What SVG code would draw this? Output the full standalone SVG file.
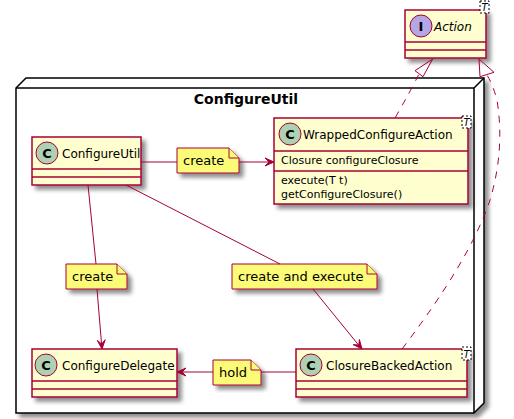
<svg xmlns="http://www.w3.org/2000/svg" width="514" height="419" viewBox="0 0 514 419">
<style>
.cls{fill:#FEFECE;stroke:#A80036;stroke-width:1.5}
.sep{stroke:#A80036;stroke-width:1.5;fill:none}
.note{fill:#FBFB77;stroke:#A80036;stroke-width:1}
.circ{fill:#ADD1B2;stroke:#A80036;stroke-width:1}
.icirc{fill:#B4A7E5;stroke:#A80036;stroke-width:1}
.glyph{font-family:"DejaVu Sans",sans-serif;font-weight:bold;font-size:13px;fill:#000;text-anchor:middle}
.name{font-family:"DejaVu Sans",sans-serif;font-size:12px;fill:#000}
.mem{font-family:"DejaVu Sans",sans-serif;font-size:11px;fill:#000}
.ntext{font-family:"DejaVu Sans",sans-serif;font-size:13px;fill:#000}
.tbox{fill:#FFFFFF;stroke:#000;stroke-width:1;stroke-dasharray:2,2}
.ttext{font-family:"DejaVu Sans",sans-serif;font-size:10px;font-style:italic;fill:#000;text-anchor:middle}
.line{stroke:#A80036;stroke-width:1;fill:none}
.dash{stroke:#A80036;stroke-width:1;fill:none;stroke-dasharray:7,7}
.head{fill:#A80036;stroke:#A80036;stroke-width:1}
.ohead{fill:none;stroke:#A80036;stroke-width:1}
</style>
<defs>
<filter id="sh" x="-20%" y="-20%" width="150%" height="150%">
<feGaussianBlur in="SourceAlpha" stdDeviation="2" result="b"/>
<feColorMatrix in="b" type="matrix" values="0 0 0 0 0  0 0 0 0 0  0 0 0 0 0  0 0 0 0.45 0" result="c"/>
<feOffset in="c" dx="4" dy="4" result="o"/>
<feMerge><feMergeNode in="o"/><feMergeNode in="SourceGraphic"/></feMerge>
</filter>
</defs>
<rect width="514" height="419" fill="#FFFFFF"/>

<g id="node-ConfigureUtil">
<path d="M16,88 L26,78 L484,78 L484,403 L474,413 L16,413 Z" fill="#FFFFFF" stroke="#000" stroke-width="1.5" filter="url(#sh)"/>
<path d="M16,88 L474,88 L484,78 M474,88 L474,413" fill="none" stroke="#000" stroke-width="1.5"/>
<text x="246" y="103.5" font-family="DejaVu Sans, sans-serif" font-size="14" font-weight="bold" text-anchor="middle">ConfigureUtil</text>
</g>

<g id="class-Action">
<rect class="cls" x="405" y="10" width="81" height="48" filter="url(#sh)"/>
<line class="sep" x1="405" y1="42" x2="486" y2="42"/>
<line class="sep" x1="405" y1="50" x2="486" y2="50"/>
<circle class="icirc" cx="421" cy="26" r="11"/>
<text class="glyph" x="421" y="30.5">I</text>
<text class="name" x="434" y="30.5" font-style="italic">Action</text>
<rect class="tbox" x="480" y="1" width="9" height="12"/>
<text class="ttext" x="484.5" y="11">T</text>
</g>

<g id="class-WrappedConfigureAction">
<rect class="cls" x="274" y="118" width="194" height="86" filter="url(#sh)"/>
<line class="sep" x1="274" y1="151" x2="468" y2="151"/>
<line class="sep" x1="274" y1="171" x2="468" y2="171"/>
<circle class="circ" cx="290" cy="134" r="11"/>
<text class="glyph" x="290" y="138.5">C</text>
<text class="name" x="303" y="138.5">WrappedConfigureAction</text>
<text class="mem" x="281" y="164">Closure configureClosure</text>
<text class="mem" x="281" y="184">execute(T t)</text>
<text class="mem" x="281" y="198">getConfigureClosure()</text>
<rect class="tbox" x="462" y="116" width="9" height="12"/>
<text class="ttext" x="466.5" y="126">T</text>
</g>

<g id="class-ConfigureUtil">
<rect class="cls" x="32" y="137" width="109" height="48" filter="url(#sh)"/>
<line class="sep" x1="32" y1="169" x2="141" y2="169"/>
<line class="sep" x1="32" y1="177" x2="141" y2="177"/>
<circle class="circ" cx="47" cy="153" r="11"/>
<text class="glyph" x="47" y="157.5">C</text>
<text class="name" x="62" y="157.5">ConfigureUtil</text>
</g>

<g id="class-ConfigureDelegate">
<rect class="cls" x="32" y="349" width="145" height="48" filter="url(#sh)"/>
<line class="sep" x1="32" y1="381" x2="177" y2="381"/>
<line class="sep" x1="32" y1="389" x2="177" y2="389"/>
<circle class="circ" cx="46" cy="365" r="11"/>
<text class="glyph" x="46" y="369.5">C</text>
<text class="name" x="62" y="369.5">ConfigureDelegate</text>
</g>

<g id="class-ClosureBackedAction">
<rect class="cls" x="296" y="349" width="171" height="48" filter="url(#sh)"/>
<line class="sep" x1="296" y1="381" x2="467" y2="381"/>
<line class="sep" x1="296" y1="389" x2="467" y2="389"/>
<circle class="circ" cx="311" cy="365" r="11"/>
<text class="glyph" x="311" y="369.5">C</text>
<text class="name" x="326" y="369.5">ClosureBackedAction</text>
<rect class="tbox" x="462" y="347" width="9" height="13"/>
<text class="ttext" x="466.5" y="357.5">T</text>
</g>

<g id="note-create-1">
<path class="note" d="M177,148 L229,148 L239,158 L239,173 L177,173 Z" filter="url(#sh)"/>
<path class="note" d="M229,148 L229,158 L239,158"/>
<text class="ntext" x="183" y="165">create</text>
</g>

<g id="note-create-2">
<path class="note" d="M66,264 L117,264 L127,274 L127,289 L66,289 Z" filter="url(#sh)"/>
<path class="note" d="M117,264 L117,274 L127,274"/>
<text class="ntext" x="72" y="281">create</text>
</g>

<g id="note-create-and-execute">
<path class="note" d="M232,264 L367,264 L377,274 L377,289 L232,289 Z" filter="url(#sh)"/>
<path class="note" d="M367,264 L367,274 L377,274"/>
<text class="ntext" x="238" y="281">create and execute</text>
</g>

<g id="note-hold">
<path class="note" d="M213,360 L251,360 L261,370 L261,385 L213,385 Z" filter="url(#sh)"/>
<path class="note" d="M251,360 L251,370 L261,370"/>
<text class="ntext" x="219" y="377">hold</text>
</g>

<g id="connectors">
<line class="line" x1="141" y1="162" x2="177" y2="162"/>
<line class="line" x1="239" y1="162" x2="273" y2="162"/>
<polygon class="head" points="274,162 265,158 269,162 265,166"/>

<line class="line" x1="88" y1="185" x2="96" y2="264"/>
<line class="line" x1="97" y1="289" x2="101.8" y2="347"/>
<polygon class="head" points="102,349 105.2,339.7 101.6,344 97.3,340.4"/>

<line class="line" x1="126" y1="185" x2="280" y2="264"/>
<line class="line" x1="313" y1="289" x2="361" y2="348"/>
<polygon class="head" points="362,349 359.4,339.5 358.8,345.1 353.2,344.6"/>

<line class="line" x1="296" y1="372" x2="261" y2="372"/>
<line class="line" x1="213" y1="372" x2="178" y2="372"/>
<polygon class="head" points="177,372 186,368 182,372 186,376"/>

<path class="dash" d="M395,118 Q410,92 419,74"/>
<polygon class="ohead" points="432.7,59 415,70.7 423,76.7"/>

<path class="dash" d="M402,349 Q470,260 490,200 Q505,150 497,100 Q493,85 487,75"/>
<polygon class="ohead" points="479,59 480,76.7 494,72.3"/>
</g>
</svg>
